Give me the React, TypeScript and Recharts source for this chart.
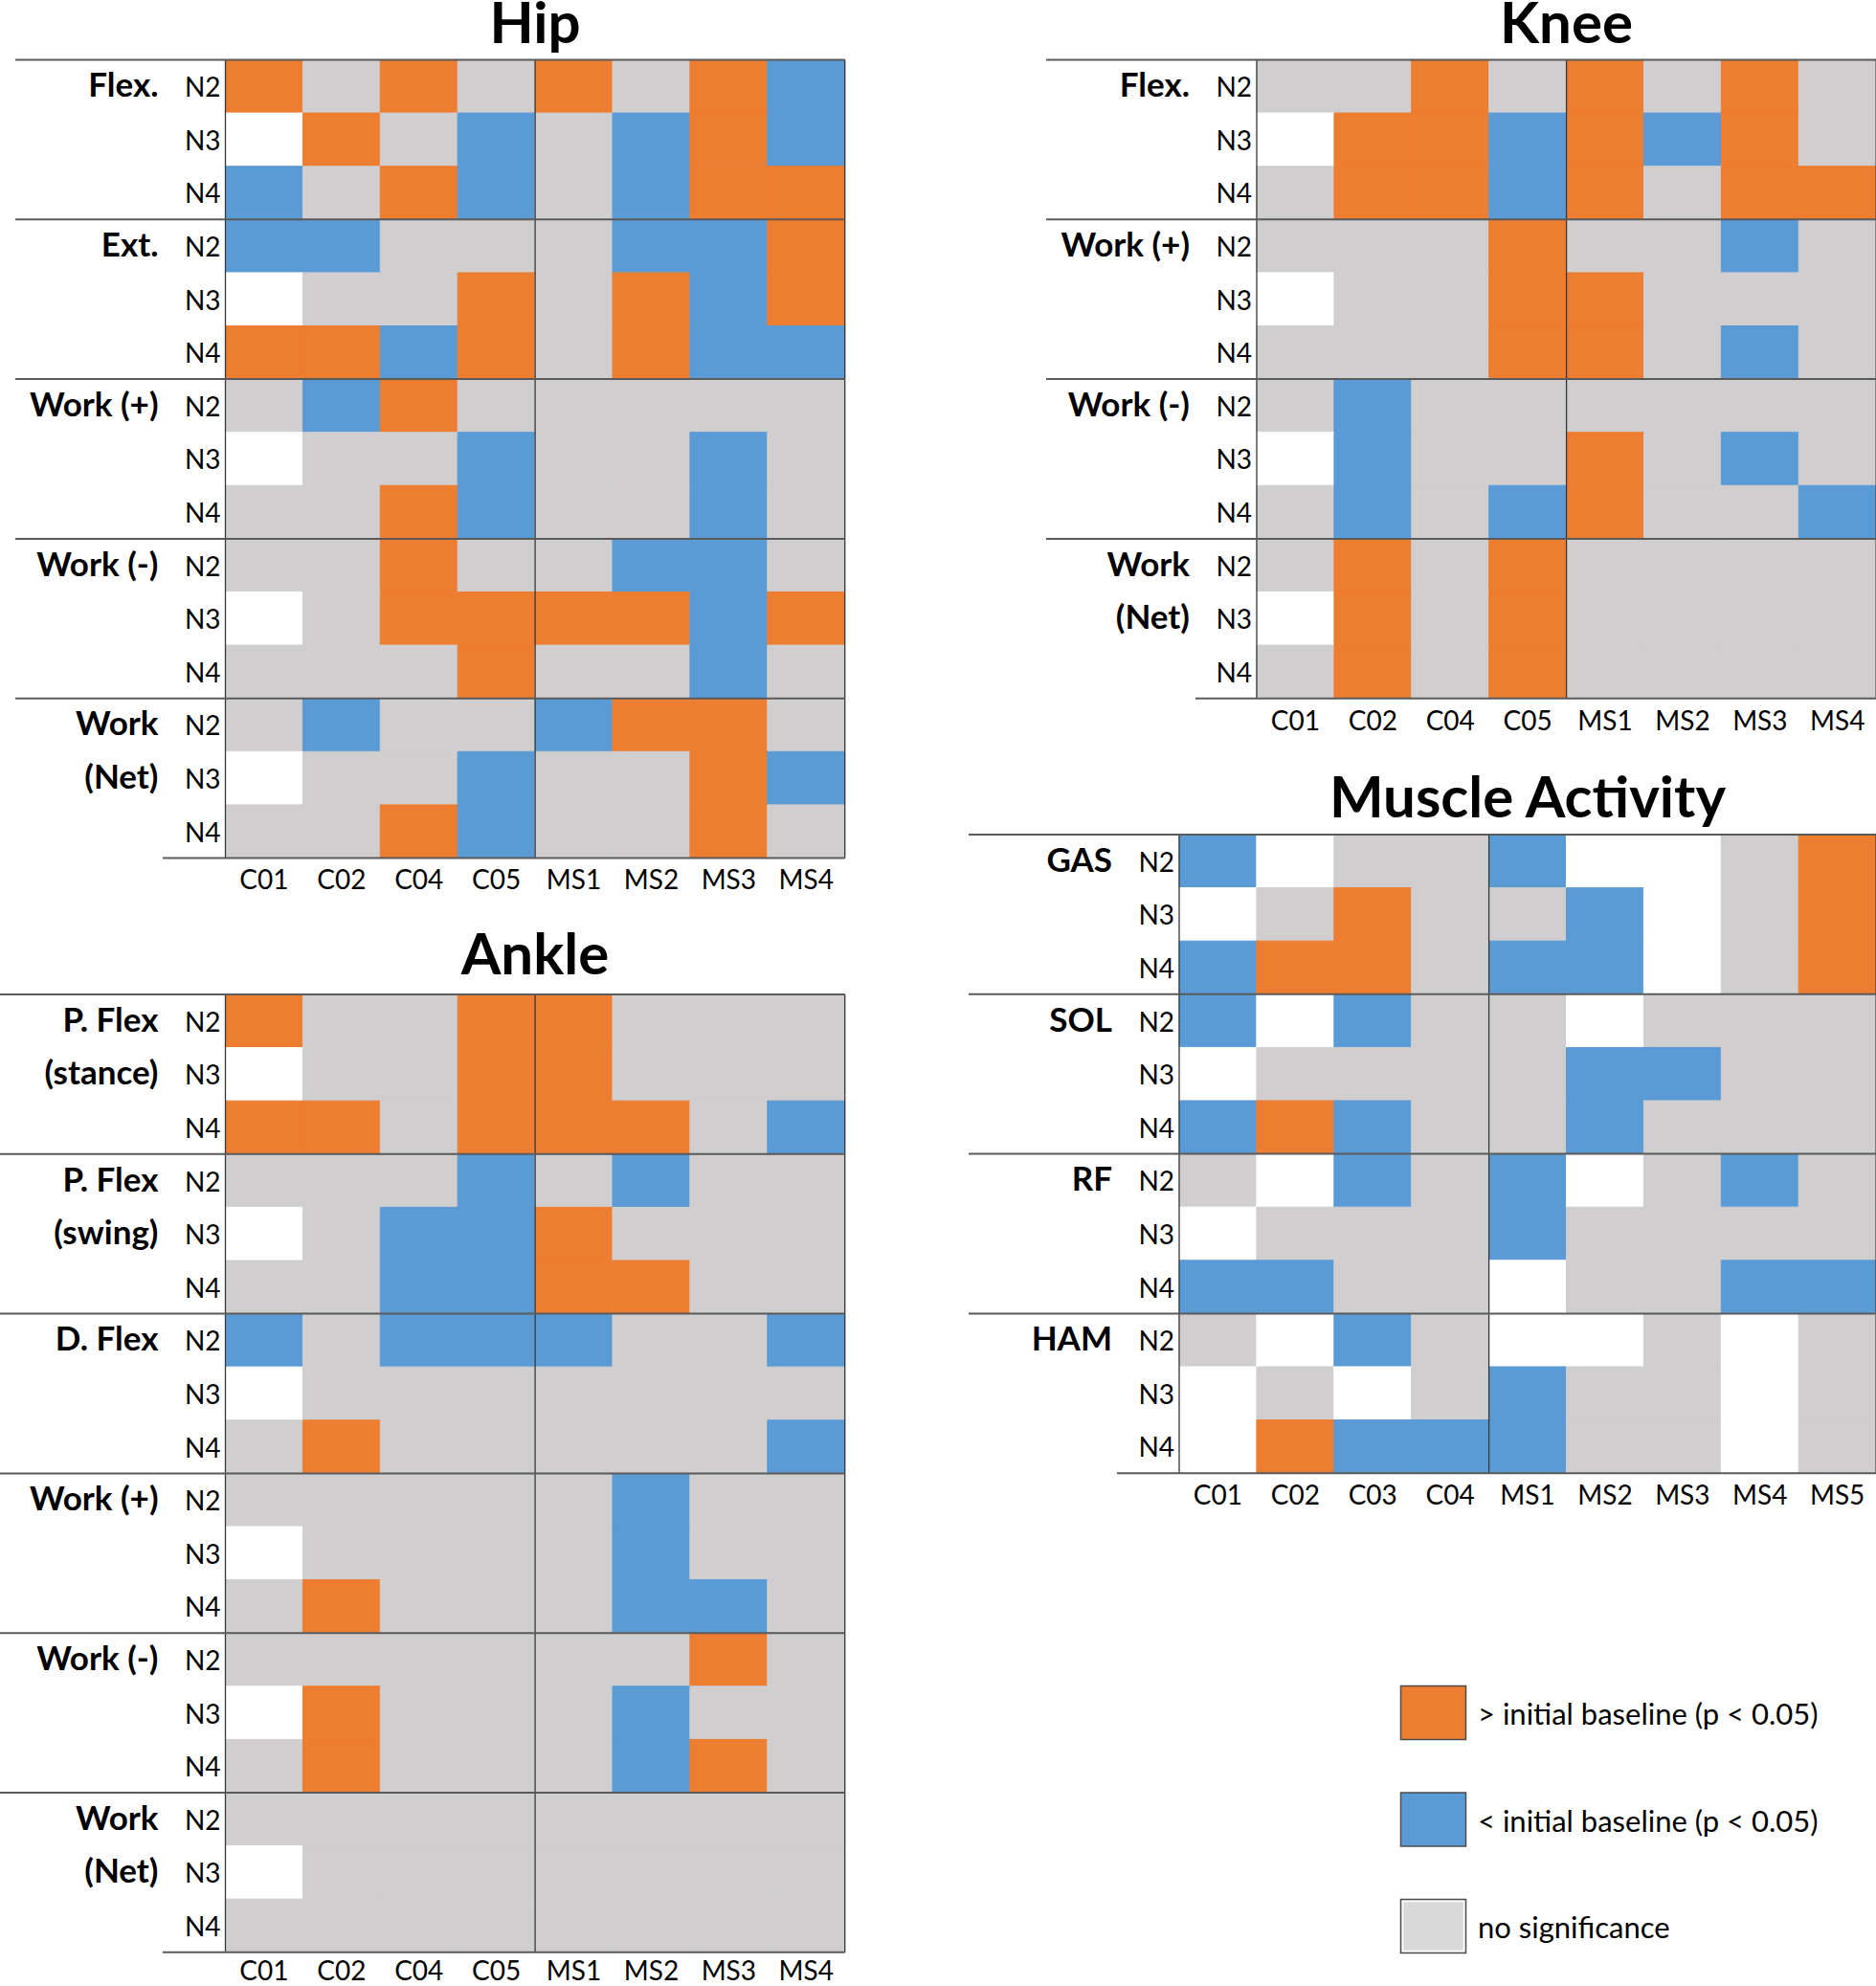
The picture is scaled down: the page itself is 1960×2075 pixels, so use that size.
import React from 'react';
import { BarChart, Bar, Cell, XAxis, YAxis, ReferenceLine } from 'recharts';

const FONT = 'Lato, "Open Sans", sans-serif';
const ORANGE = '#ED7D31';
const BLUE = '#5B9BD5';
const GRAY = '#D0CECE';
const CELL_W = 80.9;
const ROW_H = 55.6;

// 1 = above initial baseline, -1 = below, 0 = no significance, null = no data
type V = 1 | 0 | -1 | null;

const levels = ['N2', 'N3', 'N4'];
const jointCols = ['C01', 'C02', 'C04', 'C05', 'MS1', 'MS2', 'MS3', 'MS4'];
const muscleCols = ['C01', 'C02', 'C03', 'C04', 'MS1', 'MS2', 'MS3', 'MS4', 'MS5'];

// Hip
const hipFlex: V[][] = [
  [1, 0, 1, 0, 1, 0, 1, -1],
  [null, 1, 0, -1, 0, -1, 1, -1],
  [-1, 0, 1, -1, 0, -1, 1, 1],
];
const hipExt: V[][] = [
  [-1, -1, 0, 0, 0, -1, -1, 1],
  [null, 0, 0, 1, 0, 1, -1, 1],
  [1, 1, -1, 1, 0, 1, -1, -1],
];
const hipWorkPos: V[][] = [
  [0, -1, 1, 0, 0, 0, 0, 0],
  [null, 0, 0, -1, 0, 0, -1, 0],
  [0, 0, 1, -1, 0, 0, -1, 0],
];
const hipWorkNeg: V[][] = [
  [0, 0, 1, 0, 0, -1, -1, 0],
  [null, 0, 1, 1, 1, 1, -1, 1],
  [0, 0, 0, 1, 0, 0, -1, 0],
];
const hipWorkNet: V[][] = [
  [0, -1, 0, 0, -1, 1, 1, 0],
  [null, 0, 0, -1, 0, 0, 1, -1],
  [0, 0, 1, -1, 0, 0, 1, 0],
];

// Knee
const kneeFlex: V[][] = [
  [0, 0, 1, 0, 1, 0, 1, 0],
  [null, 1, 1, -1, 1, -1, 1, 0],
  [0, 1, 1, -1, 1, 0, 1, 1],
];
const kneeWorkPos: V[][] = [
  [0, 0, 0, 1, 0, 0, -1, 0],
  [null, 0, 0, 1, 1, 0, 0, 0],
  [0, 0, 0, 1, 1, 0, -1, 0],
];
const kneeWorkNeg: V[][] = [
  [0, -1, 0, 0, 0, 0, 0, 0],
  [null, -1, 0, 0, 1, 0, -1, 0],
  [0, -1, 0, -1, 1, 0, 0, -1],
];
const kneeWorkNet: V[][] = [
  [0, 1, 0, 1, 0, 0, 0, 0],
  [null, 1, 0, 1, 0, 0, 0, 0],
  [0, 1, 0, 1, 0, 0, 0, 0],
];

// Ankle
const anklePFlexStance: V[][] = [
  [1, 0, 0, 1, 1, 0, 0, 0],
  [null, 0, 0, 1, 1, 0, 0, 0],
  [1, 1, 0, 1, 1, 1, 0, -1],
];
const anklePFlexSwing: V[][] = [
  [0, 0, 0, -1, 0, -1, 0, 0],
  [null, 0, -1, -1, 1, 0, 0, 0],
  [0, 0, -1, -1, 1, 1, 0, 0],
];
const ankleDFlex: V[][] = [
  [-1, 0, -1, -1, -1, 0, 0, -1],
  [null, 0, 0, 0, 0, 0, 0, 0],
  [0, 1, 0, 0, 0, 0, 0, -1],
];
const ankleWorkPos: V[][] = [
  [0, 0, 0, 0, 0, -1, 0, 0],
  [null, 0, 0, 0, 0, -1, 0, 0],
  [0, 1, 0, 0, 0, -1, -1, 0],
];
const ankleWorkNeg: V[][] = [
  [0, 0, 0, 0, 0, 0, 1, 0],
  [null, 1, 0, 0, 0, -1, 0, 0],
  [0, 1, 0, 0, 0, -1, 1, 0],
];
const ankleWorkNet: V[][] = [
  [0, 0, 0, 0, 0, 0, 0, 0],
  [null, 0, 0, 0, 0, 0, 0, 0],
  [0, 0, 0, 0, 0, 0, 0, 0],
];

// Muscle activity
const musGas: V[][] = [
  [-1, null, 0, 0, -1, null, null, 0, 1],
  [null, 0, 1, 0, 0, -1, null, 0, 1],
  [-1, 1, 1, 0, -1, -1, null, 0, 1],
];
const musSol: V[][] = [
  [-1, null, -1, 0, 0, null, 0, 0, 0],
  [null, 0, 0, 0, 0, -1, -1, 0, 0],
  [-1, 1, -1, 0, 0, -1, 0, 0, 0],
];
const musRf: V[][] = [
  [0, null, -1, 0, -1, null, 0, -1, 0],
  [null, 0, 0, 0, -1, 0, 0, 0, 0],
  [-1, -1, 0, 0, null, 0, 0, -1, -1],
];
const musHam: V[][] = [
  [0, null, -1, 0, null, null, 0, null, 0],
  [null, 0, null, 0, -1, 0, 0, null, 0],
  [null, 1, -1, -1, -1, 0, 0, null, 0],
];

type Group = { label: string[]; rows: V[][] };

const hipGroups: Group[] = [
  { label: ['Flex.'], rows: hipFlex },
  { label: ['Ext.'], rows: hipExt },
  { label: ['Work (+)'], rows: hipWorkPos },
  { label: ['Work (-)'], rows: hipWorkNeg },
  { label: ['Work', '(Net)'], rows: hipWorkNet },
];
const kneeGroups: Group[] = [
  { label: ['Flex.'], rows: kneeFlex },
  { label: ['Work (+)'], rows: kneeWorkPos },
  { label: ['Work (-)'], rows: kneeWorkNeg },
  { label: ['Work', '(Net)'], rows: kneeWorkNet },
];
const ankleGroups: Group[] = [
  { label: ['P. Flex', '(stance)'], rows: anklePFlexStance },
  { label: ['P. Flex', '(swing)'], rows: anklePFlexSwing },
  { label: ['D. Flex'], rows: ankleDFlex },
  { label: ['Work (+)'], rows: ankleWorkPos },
  { label: ['Work (-)'], rows: ankleWorkNeg },
  { label: ['Work', '(Net)'], rows: ankleWorkNet },
];
const muscleGroups: Group[] = [
  { label: ['GAS'], rows: musGas },
  { label: ['SOL'], rows: musSol },
  { label: ['RF'], rows: musRf },
  { label: ['HAM'], rows: musHam },
];

const legendItems = [
  { label: '> initial baseline (p < 0.05)', fill: ORANGE },
  { label: '< initial baseline (p < 0.05)', fill: BLUE },
  { label: 'no significance', fill: '#D9D9D9' },
];

const cellColor = (v: V) => (v === null ? '#FFFFFF' : v > 0 ? ORANGE : v < 0 ? BLUE : GRAY);

interface HeatmapProps {
  left: number;
  top: number;
  gridLeft: number;
  gridTop: number;
  cols: string[];
  groups: Group[];
  groupLineExt: number;
  axisLineExt: number;
  splitCol: string;
  labelOffset?: number;
}

const Heatmap: React.FC<HeatmapProps> = ({
  left,
  top,
  gridLeft,
  gridTop,
  cols,
  groups,
  groupLineExt,
  axisLineExt,
  splitCol,
  labelOffset = 33,
}) => {
  const rows = groups.flatMap((g) => g.rows);
  const nRows = rows.length;
  const nCols = cols.length;
  const yAxisWidth = gridLeft - left;
  const marginTop = gridTop - top;
  const width = yAxisWidth + nCols * CELL_W + 10;
  const height = marginTop + nRows * ROW_H + 70;

  const data = cols.map((c) => {
    const d: Record<string, string | number> = { col: c };
    rows.forEach((_, ri) => (d['r' + ri] = 1));
    return d;
  });

  const rowInfo: { level: string; group: string }[] = [];
  const groupStarts: number[] = [];
  groups.forEach((g) => {
    groupStarts.push(rowInfo.length);
    g.rows.forEach((_, i) => rowInfo.push({ level: levels[i], group: g.label[i] || '' }));
  });

  const hline = (ext: number) => (p: any) => (
    <line
      x1={Math.min(p.x1, p.x2) - ext}
      x2={Math.max(p.x1, p.x2)}
      y1={p.y1}
      y2={p.y2}
      stroke="#5a5a5a"
      strokeWidth={2}
    />
  );
  const vline = (p: any) => <line x1={p.x1} x2={p.x2} y1={p.y1} y2={p.y2} stroke="#383838" strokeWidth={1.3} />;

  const RowTick = (props: any) => {
    const { x, y, payload } = props;
    const info = rowInfo[Math.floor(payload.value)];
    if (!info) return null;
    return (
      <g>
        <text x={x} y={y + 11} textAnchor="end" fontFamily={FONT} fontSize={28} fill="#000">
          {info.level}
        </text>
        {info.group && (
          <text x={x - 65} y={y + 11} textAnchor="end" fontFamily={FONT} fontSize={35} fontWeight={700} fill="#000">
            {info.group}
          </text>
        )}
      </g>
    );
  };

  const ColTick = (props: any) => {
    const { x, y, payload } = props;
    return (
      <text x={x} y={y + labelOffset} textAnchor="middle" fontFamily={FONT} fontSize={28} fill="#000">
        {payload.value}
      </text>
    );
  };

  return (
    <div style={{ position: 'absolute', left, top }}>
      <BarChart
        width={width}
        height={height}
        data={data}
        margin={{ top: marginTop, right: 10, bottom: 10, left: 0 }}
        barCategoryGap={0}
        barGap={0}
      >
        <XAxis
          dataKey="col"
          height={60}
          interval={0}
          tickLine={false}
          axisLine={false}
          tickSize={0}
          tickMargin={0}
          tick={<ColTick />}
        />
        <YAxis
          type="number"
          domain={[0, nRows]}
          reversed
          allowDataOverflow
          width={yAxisWidth}
          ticks={rows.map((_, i) => i + 0.5)}
          interval={0}
          tickLine={false}
          axisLine={false}
          tickSize={0}
          tickMargin={5}
          tick={<RowTick />}
        />
        {rows.map((row, ri) => (
          <Bar key={ri} dataKey={'r' + ri} stackId="s" barSize={CELL_W - 0.05} isAnimationActive={false}>
            {cols.map((c, ci) => (
              <Cell key={c} fill={cellColor(row[ci])} stroke={cellColor(row[ci])} strokeWidth={1} />
            ))}
          </Bar>
        ))}
        <ReferenceLine x={cols[0]} position="start" shape={vline} />
        <ReferenceLine x={splitCol} position="start" shape={vline} />
        <ReferenceLine x={cols[nCols - 1]} position="end" shape={vline} />
        {groupStarts.map((s) => (
          <ReferenceLine key={s} y={s} shape={hline(groupLineExt)} />
        ))}
        <ReferenceLine y={nRows} shape={hline(axisLineExt)} />
      </BarChart>
    </div>
  );
};

const titles = [
  { text: 'Hip', x: 559, y: 45 },
  { text: 'Knee', x: 1636.5, y: 45 },
  { text: 'Ankle', x: 559, y: 1018 },
  { text: 'Muscle Activity', x: 1596, y: 854 },
];

const App: React.FC = () => (
  <div
    style={{
      position: 'fixed',
      left: 0,
      top: 0,
      width: 1960,
      height: 2075,
      overflow: 'hidden',
      background: '#fff',
    }}
  >
    <Heatmap left={0} top={0} gridLeft={235.5} gridTop={62.5} cols={jointCols} groups={hipGroups} groupLineExt={219.5} axisLineExt={65.5} splitCol="MS1" />
    <Heatmap left={1000} top={0} gridLeft={1313} gridTop={62.5} cols={jointCols} groups={kneeGroups} groupLineExt={220} axisLineExt={64} splitCol="MS1" />
    <Heatmap left={0} top={970} gridLeft={235.5} gridTop={1039} cols={jointCols} groups={ankleGroups} groupLineExt={235.5} axisLineExt={65.5} splitCol="MS1" labelOffset={29} />
    <Heatmap left={1000} top={800} gridLeft={1232} gridTop={872} cols={muscleCols} groups={muscleGroups} groupLineExt={220} axisLineExt={65} splitCol="MS1" />
    <svg width={1960} height={2075} style={{ position: 'absolute', left: 0, top: 0, pointerEvents: 'none' }}>
      {titles.map((t) => (
        <text key={t.text} x={t.x} y={t.y} textAnchor="middle" fontFamily={FONT} fontWeight={700} fontSize={60} fill="#000">
          {t.text}
        </text>
      ))}
      {legendItems.map((item, i) => (
        <g key={item.label}>
          <rect x={1463.5} y={1761.5 + i * 111.5} width={68} height={56} fill={item.fill} stroke="#4d4d4d" strokeWidth={1.5} />
          {i === 2 && (
            <rect x={1465.5} y={1763.5 + i * 111.5} width={64} height={52} fill="none" stroke="#ffffff" strokeWidth={1.5} />
          )}
          <text x={1544} y={1802 + i * 111.5} fontFamily={FONT} fontSize={31} fill="#000">
            {item.label}
          </text>
        </g>
      ))}
    </svg>
  </div>
);

export default App;
